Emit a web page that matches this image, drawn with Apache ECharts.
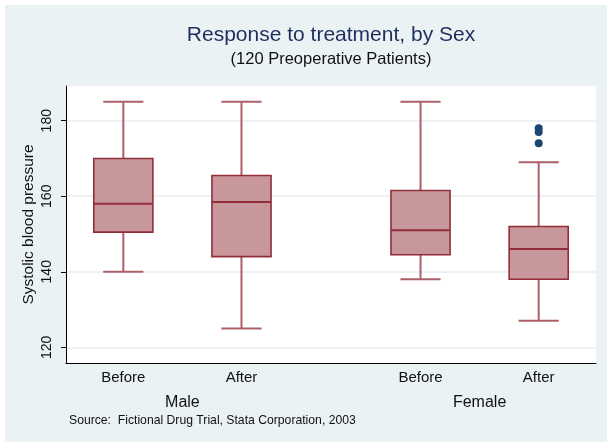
<!DOCTYPE html>
<html>
<head>
<meta charset="utf-8">
<script src="https://cdn.jsdelivr.net/npm/echarts@6/dist/echarts.min.js"></script>
<style>
  html, body { margin: 0; padding: 0; background: #ffffff; }
  #chart { width: 607px; height: 442px; }
</style>
</head>
<body>
<div id="chart"></div>
<script>
// Systolic blood pressure before/after treatment, split by sex
const categories = ['Before', 'After', 'Before', 'After'];
const groups = ['Male', 'Female'];
const groupOf = [0, 0, 1, 1];

const whiskerLow  = [140, 125, 138, 127];
const quartile1   = [150.5, 144, 144.5, 138];
const medians     = [158, 158.5, 151, 146];
const quartile3   = [170, 165.5, 161.5, 152];
const whiskerHigh = [185, 185, 185, 169];
const outliers    = [[], [], [], [178, 177, 174]];

const yTicks = [120, 140, 160, 180];

// horizontal layout of the boxes (in slot units)
const slotCenters = [0.485, 1.485, 3.0, 4.0];
const xMax = 4.485;
const boxWidth = 0.5;
const capWidth = 0.34;

const FONT = "'Liberation Sans', Arial, Helvetica, sans-serif";
const BOX_FILL = '#c8979b';
const BOX_EDGE = '#922d3a';
const WHISKER = '#ad5f68';

const boxData = categories.map((c, i) => [
  slotCenters[i], whiskerLow[i], quartile1[i], medians[i], quartile3[i], whiskerHigh[i]
]);

const outlierData = [];
outliers.forEach((vals, i) => vals.forEach(v => outlierData.push([slotCenters[i], v])));

const groupCenters = groups.map((g, gi) => {
  const xs = slotCenters.filter((_, i) => groupOf[i] === gi);
  return xs.reduce((a, b) => a + b, 0) / xs.length;
});

function renderBox(params, api) {
  const x = api.value(0);
  const lo = api.coord([x, api.value(1)]);
  const q1 = api.coord([x, api.value(2)]);
  const md = api.coord([x, api.value(3)]);
  const q3 = api.coord([x, api.value(4)]);
  const hi = api.coord([x, api.value(5)]);
  const halfBox = (api.coord([x + boxWidth / 2, 0])[0] - api.coord([x, 0])[0]);
  const halfCap = (api.coord([x + capWidth / 2, 0])[0] - api.coord([x, 0])[0]);
  const cx = q1[0];
  const wStyle = { stroke: WHISKER, lineWidth: 2 };
  return {
    type: 'group',
    children: [
      { type: 'line', shape: { x1: cx, y1: q3[1], x2: cx, y2: hi[1] }, style: wStyle },
      { type: 'line', shape: { x1: cx, y1: q1[1], x2: cx, y2: lo[1] }, style: wStyle },
      { type: 'line', shape: { x1: cx - halfCap, y1: hi[1], x2: cx + halfCap, y2: hi[1] }, style: wStyle },
      { type: 'line', shape: { x1: cx - halfCap, y1: lo[1], x2: cx + halfCap, y2: lo[1] }, style: wStyle },
      { type: 'rect', shape: { x: cx - halfBox, y: q3[1], width: halfBox * 2, height: q1[1] - q3[1] },
        style: { fill: BOX_FILL, stroke: BOX_EDGE, lineWidth: 1.6 } },
      { type: 'line', shape: { x1: cx - halfBox, y1: md[1], x2: cx + halfBox, y2: md[1] },
        style: { stroke: BOX_EDGE, lineWidth: 2 } }
    ]
  };
}

const chart = echarts.init(document.getElementById('chart'), null, { renderer: 'canvas' });

chart.setOption({
  animation: false,
  backgroundColor: '#ffffff',
  graphic: [
    { type: 'rect', z: -10, shape: { x: 5, y: 5, width: 602, height: 437 }, style: { fill: '#eaf2f3' } },
    { type: 'rect', z: -9, shape: { x: 66, y: 86, width: 530, height: 277 }, style: { fill: '#ffffff' } },
    { type: 'text', x: 331, y: 35, style: { text: 'Response to treatment, by Sex', align: 'center', verticalAlign: 'middle',
      fontSize: 21, fontFamily: FONT, fill: '#1e2f5f' } },
    { type: 'text', x: 331, y: 59, style: { text: '(120 Preoperative Patients)', align: 'center', verticalAlign: 'middle',
      fontSize: 16.5, fontFamily: FONT, fill: '#111111' } },
    { type: 'text', x: 69, y: 421, style: { text: 'Source:  Fictional Drug Trial, Stata Corporation, 2003', align: 'left', verticalAlign: 'middle',
      fontSize: 12.2, fontFamily: FONT, fill: '#111111' } }
  ],
  grid: { left: 66, top: 86, width: 530, height: 277, containLabel: false },
  xAxis: [
    {
      type: 'value', min: 0, max: xMax,
      axisLine: { show: true, lineStyle: { color: '#000000', width: 1 } },
      axisTick: { show: false },
      splitLine: { show: false },
      axisLabel: {
        customValues: slotCenters,
        formatter: (v) => categories[slotCenters.indexOf(v)] || '',
        fontSize: 15, fontFamily: FONT, color: '#111111', margin: 7
      }
    },
    {
      type: 'value', min: 0, max: xMax, position: 'bottom',
      axisLine: { show: false }, axisTick: { show: false }, splitLine: { show: false },
      axisLabel: {
        customValues: groupCenters,
        formatter: (v) => groups[groupCenters.indexOf(v)] || '',
        fontSize: 16, fontFamily: FONT, color: '#111111', margin: 32
      }
    }
  ],
  yAxis: {
    type: 'value', min: 115.84, max: 189.19,
    name: 'Systolic blood pressure', nameLocation: 'middle', nameRotate: 90, nameGap: 29,
    nameMoveOverlap: false,
    nameTextStyle: { fontSize: 15.5, fontFamily: FONT, color: '#111111' },
    axisLine: { show: true, lineStyle: { color: '#000000', width: 1 } },
    axisTick: { show: true, customValues: yTicks, length: 5, lineStyle: { color: '#000000' } },
    axisLabel: { customValues: yTicks, rotate: 90, fontSize: 14, fontFamily: FONT, color: '#111111', margin: 12 },
    splitLine: { show: true, lineStyle: { color: '#e6eef0', width: 1.5 } }
  },
  series: [
    {
      type: 'custom', name: 'box', renderItem: renderBox, data: boxData,
      encode: { x: 0, y: [1, 2, 3, 4, 5] }, clip: false
    },
    {
      type: 'scatter', name: 'outliers', data: outlierData,
      symbol: 'circle', symbolSize: 8, itemStyle: { color: '#1a476f', opacity: 1 }
    }
  ]
});
</script>
</body>
</html>
